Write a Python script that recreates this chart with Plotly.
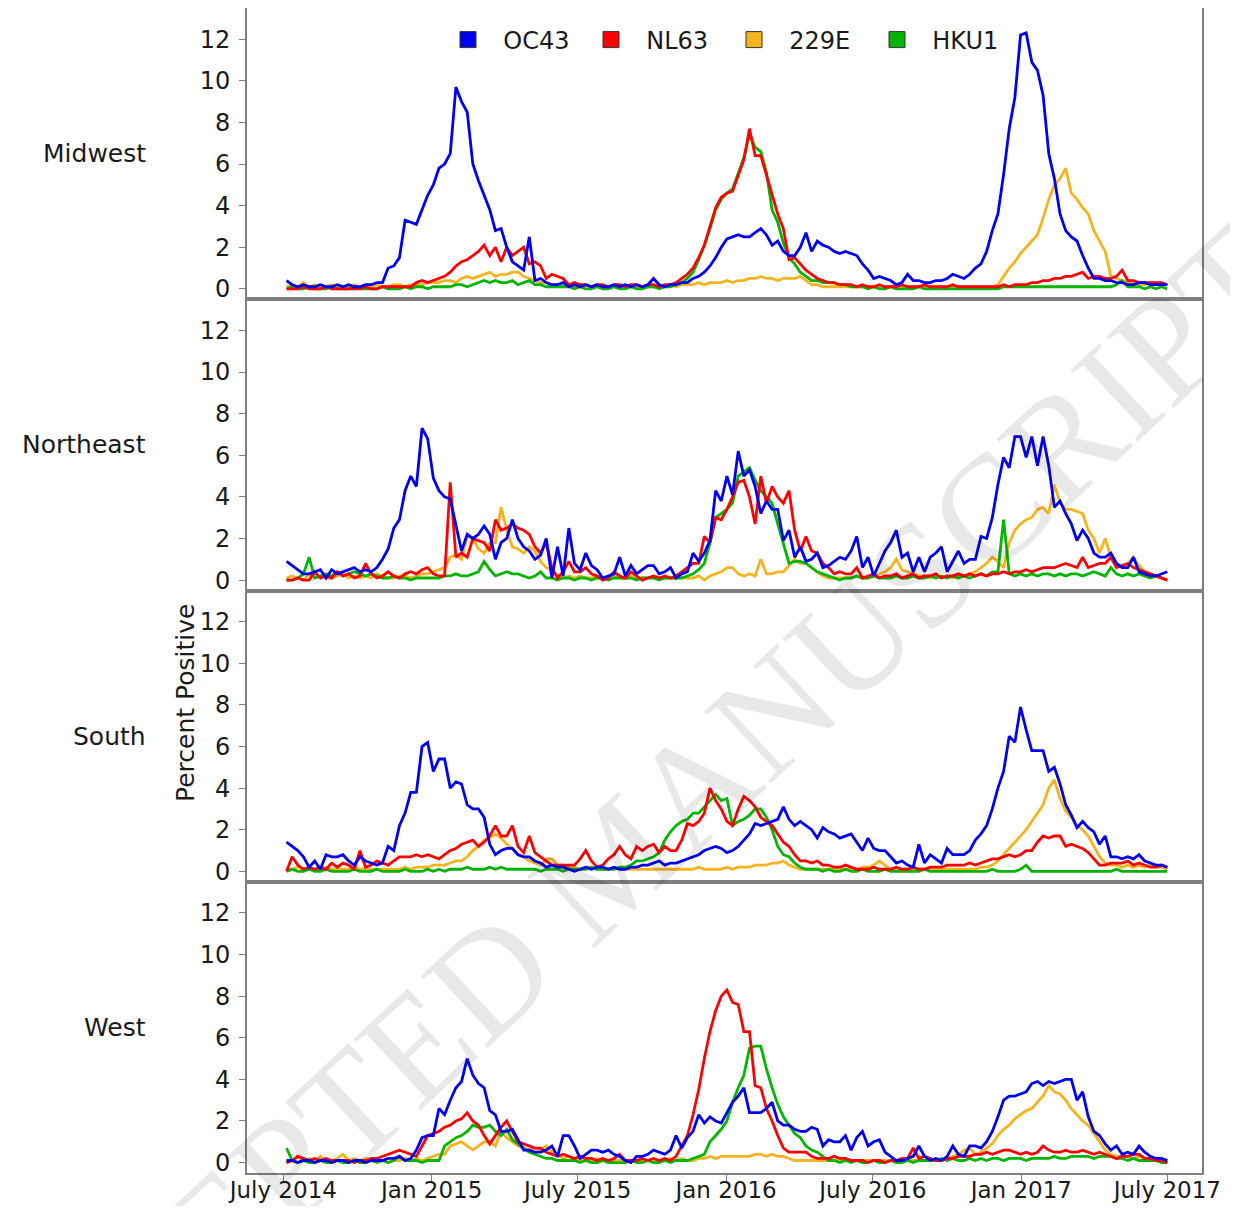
import pandas as pd
import plotly.graph_objects as go

# ---------------- data (weekly percent positive, week ending Saturday) ----------------
week_start = "2014-07-05"
n_weeks = 157
regions = ["Midwest", "Northeast", "South", "West"]
virus_names = ["OC43", "NL63", "229E", "HKU1"]
virus_colors = {"OC43": "#0000F0", "NL63": "#FF0000", "229E": "#F5B41E", "HKU1": "#00B400"}

midwest_oc43 = [0.4,0.2,0.1,0.2,0.1,0.1,0.2,0.1,0.1,0.2, 0.1,0.2,0.1,0.1,0.2,0.2,0.3,0.3,1.0,1.1,
                1.5,3.3,3.2,3.1,3.8,4.5,5.0,5.8,6.0,6.5, 9.7,9.0,8.5,6.0,5.2,4.5,3.8,2.8,2.9,2.0,
                1.3,1.1,0.9,2.5,0.4,0.5,0.3,0.2,0.2,0.3, 0.1,0.2,0.1,0.2,0.1,0.2,0.1,0.1,0.2,0.1,
                0.2,0.1,0.2,0.1,0.2,0.5,0.2,0.1,0.2,0.2, 0.3,0.3,0.5,0.6,0.8,1.1,1.5,2.0,2.4,2.5,
                2.6,2.5,2.5,2.7,2.9,2.6,2.1,2.3,1.8,1.6, 1.6,2.0,2.7,1.8,2.3,2.1,2.0,1.8,1.7,1.8,
                1.7,1.6,1.2,0.9,0.5,0.6,0.5,0.4,0.2,0.3, 0.7,0.4,0.4,0.3,0.3,0.4,0.4,0.5,0.7,0.6,
                0.5,0.7,1.0,1.2,1.8,2.8,3.6,5.5,7.7,9.2, 12.2,12.3,10.9,10.5,9.3,6.5,5.3,3.6,2.8,2.5,
                2.3,1.6,1.0,0.5,0.5,0.4,0.4,0.3,0.3,0.2, 0.2,0.3,0.3,0.2,0.2,0.2,0.2]
midwest_nl63 = [0.0,0.0,0.0,0.1,0.0,0.0,0.0,0.1,0.0,0.0, 0.0,0.0,0.0,0.0,0.1,0.0,0.0,0.1,0.1,0.1,
                0.1,0.1,0.1,0.3,0.4,0.3,0.4,0.5,0.6,0.8, 1.1,1.3,1.4,1.6,1.8,2.1,1.6,2.0,1.3,2.0,
                1.6,1.8,2.0,1.2,1.3,1.1,0.5,0.7,0.6,0.5, 0.2,0.3,0.2,0.2,0.1,0.2,0.2,0.1,0.2,0.2,
                0.1,0.2,0.2,0.1,0.2,0.2,0.1,0.2,0.2,0.3, 0.5,0.7,1.0,1.5,2.1,3.0,3.9,4.4,4.6,4.7,
                5.5,6.2,7.7,6.4,6.4,5.5,4.5,3.6,2.9,1.4, 1.5,1.2,0.9,0.7,0.5,0.4,0.3,0.3,0.2,0.2,
                0.2,0.1,0.2,0.1,0.1,0.2,0.1,0.1,0.1,0.2, 0.1,0.1,0.1,0.2,0.1,0.1,0.1,0.1,0.2,0.1,
                0.1,0.1,0.1,0.1,0.1,0.1,0.1,0.2,0.1,0.2, 0.2,0.2,0.3,0.3,0.4,0.4,0.5,0.5,0.6,0.6,
                0.7,0.8,0.5,0.6,0.6,0.5,0.5,0.6,0.9,0.4, 0.4,0.3,0.3,0.3,0.3,0.3,0.2]
midwest_229e = [0.1,0.2,0.1,0.3,0.1,0.2,0.1,0.1,0.2,0.1, 0.1,0.1,0.2,0.1,0.1,0.1,0.2,0.1,0.1,0.2,
                0.2,0.1,0.2,0.2,0.2,0.3,0.3,0.3,0.4,0.4, 0.3,0.5,0.6,0.5,0.6,0.7,0.8,0.6,0.7,0.7,
                0.8,0.8,0.6,0.5,0.4,0.3,0.3,0.2,0.2,0.1, 0.2,0.1,0.1,0.2,0.1,0.1,0.1,0.1,0.1,0.1,
                0.1,0.1,0.1,0.1,0.1,0.1,0.1,0.1,0.2,0.1, 0.2,0.2,0.2,0.3,0.2,0.3,0.3,0.3,0.4,0.3,
                0.4,0.4,0.5,0.5,0.6,0.5,0.5,0.4,0.5,0.5, 0.5,0.6,0.4,0.2,0.2,0.1,0.1,0.1,0.1,0.1,
                0.1,0.1,0.1,0.1,0.1,0.1,0.1,0.1,0.2,0.1, 0.1,0.1,0.1,0.1,0.1,0.1,0.1,0.1,0.1,0.1,
                0.1,0.1,0.1,0.1,0.1,0.1,0.2,0.6,1.0,1.3, 1.7,2.0,2.3,2.6,3.4,4.3,5.0,5.3,5.8,4.6,
                4.3,3.9,3.6,2.8,2.3,1.8,0.6,0.5,0.4,0.3, 0.3,0.2,0.2,0.3,0.2,0.2,0.2]
midwest_hku1 = [0.0,0.1,0.0,0.0,0.1,0.0,0.0,0.0,0.1,0.0, 0.0,0.0,0.1,0.0,0.0,0.0,0.0,0.1,0.0,0.0,
                0.0,0.1,0.0,0.1,0.1,0.0,0.1,0.1,0.1,0.1, 0.2,0.2,0.1,0.2,0.3,0.4,0.3,0.4,0.3,0.3,
                0.4,0.2,0.3,0.4,0.2,0.2,0.1,0.1,0.1,0.1, 0.1,0.0,0.1,0.0,0.0,0.1,0.0,0.0,0.1,0.0,
                0.0,0.1,0.0,0.0,0.1,0.1,0.0,0.1,0.1,0.2, 0.3,0.5,0.8,1.4,2.1,2.9,3.8,4.3,4.6,4.8,
                5.5,6.3,7.4,6.8,6.6,5.6,3.8,3.2,2.2,1.5, 1.2,0.8,0.6,0.4,0.4,0.3,0.3,0.3,0.2,0.2,
                0.1,0.1,0.1,0.0,0.1,0.0,0.0,0.1,0.0,0.0, 0.0,0.0,0.1,0.0,0.0,0.0,0.0,0.0,0.0,0.0,
                0.0,0.0,0.0,0.0,0.0,0.0,0.0,0.1,0.1,0.1, 0.1,0.1,0.1,0.1,0.1,0.1,0.1,0.1,0.1,0.1,
                0.1,0.1,0.1,0.1,0.1,0.1,0.1,0.2,0.4,0.1, 0.1,0.1,0.0,0.1,0.0,0.1,0.0]

northeast_oc43 = [0.9,0.7,0.5,0.3,0.3,0.4,0.5,0.1,0.5,0.3, 0.4,0.5,0.6,0.4,0.5,0.4,0.6,1.0,1.5,2.5,
                  2.9,4.3,5.0,4.5,7.3,6.8,4.9,4.3,4.0,3.9, 2.7,1.4,2.2,2.0,2.2,2.6,2.2,1.0,1.8,2.0,
                  2.9,2.0,1.6,1.4,1.0,1.2,2.0,0.1,1.6,0.2, 2.5,0.8,0.5,1.3,0.7,0.5,0.1,0.2,0.3,1.1,
                  0.2,0.7,0.3,0.5,0.7,0.7,0.3,0.4,0.6,0.1, 0.3,0.4,1.3,0.9,1.3,1.9,4.3,3.8,5.0,4.1,
                  6.2,5.0,5.3,4.5,3.2,3.8,3.4,3.4,1.9,2.4, 1.1,1.6,0.9,1.0,1.3,0.6,0.7,0.9,1.1,1.0,
                  1.4,2.1,0.6,1.1,0.2,0.8,1.4,1.8,2.4,1.1, 1.3,0.4,1.1,0.4,1.1,1.3,1.6,0.4,0.9,1.4,
                  0.8,1.0,1.0,2.1,2.0,3.0,4.6,5.9,5.4,6.9, 6.9,5.9,6.9,5.5,6.9,5.5,3.5,3.8,3.2,2.7,
                  1.9,2.4,2.0,1.3,1.1,1.1,1.3,0.8,0.6,0.6, 1.1,0.4,0.3,0.2,0.2,0.3,0.4]
northeast_nl63 = [0.0,0.0,0.1,0.0,0.0,0.4,0.1,0.2,0.1,0.4, 0.2,0.3,0.1,0.2,0.8,0.3,0.1,0.2,0.4,0.2,
                  0.1,0.3,0.4,0.3,0.5,0.6,0.3,0.2,0.2,4.7, 1.1,1.3,1.1,2.0,1.9,1.8,1.4,2.9,2.4,2.5,
                  2.7,2.5,2.4,2.2,1.6,1.3,1.8,0.6,0.1,0.4, 0.9,0.4,0.4,0.6,0.3,0.2,0.0,0.1,0.4,0.2,
                  0.1,0.4,0.2,0.0,0.1,0.2,0.1,0.2,0.1,0.2, 0.4,0.6,0.8,0.8,2.1,1.8,3.0,2.9,3.4,4.0,
                  4.7,4.8,4.0,2.7,5.0,3.7,4.5,4.0,3.7,4.3, 2.4,1.4,2.1,1.4,1.3,0.8,0.6,0.3,0.4,0.3,
                  0.3,0.6,0.1,0.2,0.3,0.1,0.2,0.2,0.3,0.1, 0.2,0.3,0.1,0.2,0.2,0.3,0.1,0.2,0.2,0.3,
                  0.2,0.3,0.2,0.3,0.2,0.3,0.3,0.4,0.3,0.4, 0.4,0.5,0.4,0.5,0.6,0.6,0.6,0.7,0.8,0.7,
                  0.6,1.1,0.6,0.7,0.8,0.8,1.1,0.6,0.7,0.8, 0.6,0.5,0.4,0.3,0.2,0.1,0.0]
northeast_229e = [0.1,0.2,0.1,0.0,0.3,0.1,0.2,0.1,0.1,0.2, 0.3,0.1,0.2,0.1,0.2,0.1,0.3,0.2,0.1,0.1,
                  0.2,0.2,0.1,0.2,0.3,0.3,0.4,0.5,0.6,1.1, 1.2,1.0,2.1,2.0,1.5,1.3,1.8,1.8,3.5,2.4,
                  1.6,1.5,1.3,1.6,1.4,0.9,0.6,0.5,0.2,0.1, 0.2,0.1,0.2,0.1,0.1,0.2,0.1,0.1,0.2,0.1,
                  0.1,0.2,0.1,0.1,0.1,0.2,0.1,0.1,0.1,0.1, 0.1,0.1,0.1,0.2,0.0,0.2,0.3,0.4,0.6,0.6,
                  0.3,0.2,0.3,0.2,1.0,0.3,0.3,0.4,0.4,0.7, 1.0,0.8,0.8,0.6,0.4,0.2,0.1,0.1,0.1,0.1,
                  0.1,0.2,0.1,0.1,0.2,0.3,0.4,0.6,1.0,0.5, 0.4,0.3,0.2,0.2,0.1,0.2,0.1,0.2,0.1,0.2,
                  0.2,0.3,0.4,0.6,0.8,1.1,0.9,0.6,1.8,2.4, 2.7,2.9,3.0,3.4,3.5,3.2,4.6,3.7,3.4,3.4,
                  3.3,3.2,2.4,2.0,1.3,2.0,1.1,0.8,0.6,0.8, 1.1,0.7,0.4,0.3,0.2,0.1,0.0]
northeast_hku1 = [0.0,0.0,0.1,0.3,1.1,0.1,0.2,0.3,0.2,0.4, 0.2,0.3,0.4,0.3,0.2,0.3,0.2,0.1,0.1,0.2,
                  0.1,0.1,0.0,0.1,0.1,0.1,0.1,0.1,0.2,0.2, 0.3,0.2,0.2,0.3,0.4,0.9,0.5,0.2,0.3,0.4,
                  0.3,0.3,0.2,0.1,0.2,0.4,0.1,0.1,0.0,0.1, 0.1,0.0,0.1,0.1,0.0,0.1,0.1,0.0,0.1,0.1,
                  0.1,0.1,0.0,0.1,0.1,0.1,0.0,0.1,0.1,0.1, 0.1,0.2,0.3,0.5,0.8,1.8,3.0,3.2,3.4,3.7,
                  5.0,5.2,5.4,4.8,4.3,4.0,3.7,2.7,1.8,0.8, 0.9,0.9,0.8,0.6,0.4,0.3,0.2,0.1,0.0,0.1,
                  0.1,0.2,0.1,0.1,0.2,0.1,0.1,0.1,0.2,0.1, 0.1,0.2,0.1,0.1,0.2,0.1,0.2,0.1,0.2,0.1,
                  0.2,0.1,0.2,0.3,0.2,0.4,0.4,2.9,0.3,0.2, 0.3,0.2,0.3,0.2,0.3,0.3,0.2,0.3,0.2,0.3,
                  0.3,0.2,0.3,0.4,0.3,0.2,0.6,0.3,0.2,0.3, 0.2,0.3,0.2,0.1,0.2,0.1,0.0]

south_oc43 = [1.4,1.2,1.0,0.7,0.2,0.5,0.1,0.8,0.7,0.7, 0.8,0.5,0.3,0.7,0.5,0.4,0.3,0.4,1.2,1.0,
              2.2,2.8,3.8,3.8,6.0,6.2,4.8,5.4,5.4,4.0, 4.3,4.2,3.2,3.0,3.0,2.6,1.3,0.8,1.0,1.1,
              1.1,0.8,0.7,0.7,0.5,0.4,0.2,0.3,0.2,0.2, 0.1,0.0,0.1,0.2,0.1,0.2,0.2,0.1,0.2,0.1,
              0.1,0.2,0.2,0.3,0.3,0.4,0.5,0.3,0.4,0.4, 0.5,0.6,0.7,0.8,1.0,1.1,1.2,1.1,0.9,1.0,
              1.2,1.5,1.8,2.3,2.2,2.3,2.4,2.5,3.1,2.5, 2.2,2.4,2.2,2.0,1.6,2.1,1.9,1.8,1.6,1.7,
              1.8,1.4,1.0,1.6,1.1,1.0,1.0,0.7,0.4,0.5, 0.3,0.2,1.3,0.4,0.8,0.6,0.4,1.1,0.8,0.8,
              0.8,1.0,1.5,1.8,2.2,3.0,4.0,4.8,6.5,6.2, 7.9,6.8,5.8,5.8,5.8,4.8,5.0,4.2,3.2,2.7,
              2.1,2.4,2.1,1.9,1.3,1.7,0.7,0.7,0.6,0.7, 0.6,0.8,0.5,0.4,0.3,0.3,0.2]
south_nl63 = [0.0,0.7,0.3,0.1,0.2,0.1,0.2,0.1,0.4,0.2, 0.4,0.3,0.1,1.0,0.2,0.3,0.5,0.4,0.3,0.5,
              0.7,0.7,0.7,0.8,0.7,0.8,0.7,0.6,0.8,1.0, 1.1,1.3,1.4,1.5,1.2,1.4,1.7,2.2,1.7,1.7,
              2.2,1.2,0.9,1.7,0.9,0.7,0.5,0.3,0.3,0.3, 0.3,0.3,0.6,1.0,0.5,0.2,0.3,0.6,0.8,1.2,
              0.8,0.6,1.2,1.0,1.2,1.3,0.9,1.2,1.0,1.0, 1.5,2.3,2.2,2.4,2.8,4.0,3.4,3.0,2.4,2.2,
              3.0,3.6,3.4,3.1,2.6,2.4,2.2,1.8,1.4,1.2, 0.8,0.5,0.5,0.4,0.5,0.3,0.3,0.2,0.2,0.3,
              0.2,0.1,0.1,0.1,0.2,0.1,0.1,0.1,0.2,0.1, 0.1,0.2,0.1,0.1,0.2,0.2,0.2,0.3,0.3,0.3,
              0.3,0.4,0.3,0.4,0.5,0.6,0.6,0.7,0.8,0.7, 0.8,1.0,1.0,1.4,1.7,1.6,1.7,1.7,1.2,1.3,
              1.2,1.1,0.9,0.6,0.3,0.3,0.4,0.4,0.4,0.5, 0.3,0.4,0.3,0.2,0.2,0.3,0.2]
south_229e = [0.1,0.1,0.2,0.1,0.1,0.1,0.1,0.2,0.1,0.1, 0.1,0.1,0.2,0.1,0.1,0.1,0.1,0.1,0.1,0.1,
              0.1,0.2,0.1,0.2,0.2,0.2,0.3,0.3,0.3,0.4, 0.5,0.5,0.7,1.0,1.2,1.5,1.6,1.8,1.6,1.3,
              1.1,0.8,0.7,0.5,0.4,0.3,0.6,0.6,0.3,0.2, 0.2,0.2,0.1,0.2,0.2,0.1,0.1,0.1,0.2,0.1,
              0.1,0.1,0.1,0.1,0.1,0.1,0.1,0.1,0.1,0.1, 0.1,0.1,0.1,0.2,0.1,0.1,0.1,0.1,0.2,0.1,
              0.2,0.2,0.2,0.3,0.3,0.3,0.4,0.4,0.5,0.3, 0.2,0.1,0.1,0.1,0.1,0.1,0.1,0.1,0.1,0.1,
              0.1,0.1,0.2,0.2,0.3,0.5,0.3,0.1,0.1,0.1, 0.1,0.1,0.1,0.1,0.1,0.1,0.1,0.1,0.1,0.1,
              0.1,0.1,0.1,0.2,0.2,0.3,0.5,0.8,1.1,1.4, 1.7,2.0,2.4,2.8,3.2,4.0,4.4,3.5,2.9,2.6,
              2.2,2.0,1.7,1.2,0.7,0.4,0.3,0.3,0.2,0.3, 0.2,0.3,0.2,0.3,0.2,0.2,0.1]
south_hku1 = [0.0,0.1,0.0,0.0,0.1,0.0,0.0,0.1,0.0,0.0, 0.0,0.0,0.1,0.0,0.0,0.0,0.1,0.0,0.0,0.0,
              0.0,0.1,0.0,0.0,0.0,0.1,0.0,0.1,0.0,0.1, 0.1,0.1,0.2,0.1,0.1,0.1,0.2,0.1,0.2,0.1,
              0.1,0.1,0.1,0.1,0.1,0.0,0.1,0.1,0.1,0.0, 0.1,0.1,0.1,0.1,0.2,0.1,0.1,0.1,0.1,0.2,
              0.2,0.3,0.5,0.5,0.6,0.7,0.9,1.5,1.9,2.2, 2.4,2.5,2.8,2.8,3.1,3.4,3.7,3.4,3.5,2.2,
              2.4,2.5,2.7,3.0,3.0,2.6,2.0,1.2,0.8,0.7, 0.4,0.2,0.1,0.1,0.1,0.0,0.1,0.0,0.0,0.1,
              0.0,0.0,0.1,0.0,0.0,0.0,0.1,0.0,0.0,0.0, 0.0,0.0,0.0,0.1,0.0,0.0,0.0,0.0,0.0,0.0,
              0.0,0.0,0.0,0.0,0.0,0.1,0.0,0.0,0.0,0.0, 0.1,0.3,0.0,0.0,0.0,0.0,0.0,0.0,0.0,0.0,
              0.0,0.0,0.0,0.0,0.0,0.0,0.0,0.1,0.0,0.0, 0.0,0.0,0.0,0.0,0.0,0.0,0.0]

west_oc43 = [0.1,0.1,0.0,0.1,0.1,0.0,0.1,0.1,0.0,0.1, 0.1,0.0,0.1,0.1,0.0,0.1,0.1,0.1,0.2,0.2,
             0.3,0.1,0.2,0.6,1.2,1.3,1.3,2.6,2.3,3.0, 3.6,3.9,5.0,4.2,3.8,3.6,2.5,2.3,1.5,1.5,
             1.6,1.1,0.6,0.6,0.5,0.5,0.6,0.8,0.3,1.3, 1.3,0.8,0.2,0.4,0.6,0.6,0.5,0.6,0.4,0.3,
             0.1,0.0,0.3,0.3,0.4,0.6,0.5,0.4,0.6,1.3, 0.7,1.2,1.5,2.3,1.9,2.2,2.0,1.9,2.4,2.9,
             3.2,3.6,2.4,2.4,2.4,2.6,2.9,2.0,1.8,1.8, 1.6,1.5,1.5,1.7,1.6,0.8,1.1,1.0,1.0,1.3,
             0.6,1.2,1.5,0.8,1.0,1.1,0.5,0.3,0.1,0.1, 0.2,0.3,0.8,0.3,0.1,0.2,0.1,0.3,0.8,0.4,
             0.3,0.8,0.8,0.7,1.0,1.5,2.2,3.0,3.2,3.2, 3.3,3.4,3.8,3.9,3.7,3.9,3.8,3.9,4.0,4.0,
             3.0,3.4,2.2,1.5,1.3,0.9,0.6,0.8,0.4,0.5, 0.4,0.8,0.5,0.3,0.2,0.2,0.1]
west_nl63 = [0.0,0.1,0.3,0.2,0.1,0.2,0.1,0.2,0.1,0.1, 0.1,0.1,0.0,0.1,0.1,0.2,0.2,0.3,0.4,0.5,
             0.6,0.5,0.4,0.3,0.8,1.3,1.4,1.5,1.7,1.8, 2.0,2.1,2.4,2.0,1.8,1.3,0.9,1.3,1.7,2.0,
             1.5,1.0,0.9,0.8,0.7,0.7,0.5,0.4,0.3,0.4, 0.3,0.2,0.3,0.2,0.2,0.1,0.2,0.1,0.2,0.4,
             0.1,0.1,0.1,0.2,0.1,0.2,0.1,0.2,0.1,0.3, 0.8,1.3,2.3,3.5,5.0,6.3,7.3,8.0,8.3,7.7,
             7.6,6.3,6.3,3.7,3.6,2.6,2.0,1.3,0.7,0.5, 0.5,0.5,0.5,0.3,0.2,0.2,0.2,0.3,0.2,0.2,
             0.1,0.1,0.1,0.0,0.1,0.1,0.0,0.1,0.1,0.2, 0.2,0.7,0.2,0.3,0.2,0.1,0.1,0.2,0.2,0.3,
             0.3,0.3,0.4,0.4,0.5,0.4,0.5,0.6,0.6,0.5, 0.4,0.5,0.4,0.5,0.8,0.6,0.5,0.5,0.6,0.5,
             0.5,0.6,0.5,0.4,0.5,0.4,0.3,0.2,0.3,0.3, 0.4,0.4,0.2,0.2,0.1,0.1,0.0]
west_229e = [0.0,0.1,0.3,0.1,0.2,0.1,0.3,0.1,0.1,0.2, 0.4,0.1,0.2,0.1,0.2,0.1,0.1,0.1,0.0,0.1,
             0.1,0.2,0.1,0.2,0.1,0.2,0.3,0.4,0.4,0.8, 0.9,1.0,0.8,0.6,0.8,1.0,1.0,0.8,1.5,1.2,
             1.0,0.8,0.7,0.6,0.7,0.6,0.8,0.5,0.4,0.2, 0.3,0.2,0.1,0.2,0.1,0.2,0.1,0.1,0.1,0.1,
             0.1,0.1,0.1,0.1,0.1,0.1,0.1,0.1,0.2,0.1, 0.2,0.1,0.1,0.2,0.2,0.3,0.2,0.3,0.3,0.3,
             0.3,0.3,0.3,0.4,0.4,0.3,0.4,0.3,0.3,0.2, 0.1,0.1,0.1,0.1,0.1,0.1,0.1,0.1,0.1,0.1,
             0.1,0.1,0.1,0.1,0.1,0.1,0.1,0.1,0.1,0.1, 0.1,0.1,0.1,0.1,0.1,0.1,0.1,0.2,0.3,0.4,
             0.6,0.7,0.4,0.5,0.7,0.9,1.3,1.6,1.8,2.1, 2.3,2.5,2.6,2.9,3.2,3.7,3.4,3.3,3.0,2.6,
             2.3,2.0,1.8,1.4,1.0,0.6,0.4,0.3,0.3,0.3, 0.2,0.3,0.2,0.2,0.1,0.1,0.1]
west_hku1 = [0.7,0.1,0.0,0.1,0.0,0.0,0.1,0.0,0.0,0.1, 0.0,0.0,0.1,0.0,0.0,0.1,0.0,0.1,0.0,0.1,
             0.3,0.1,0.1,0.1,0.0,0.1,0.1,0.1,0.8,1.0, 1.2,1.3,1.5,1.8,1.7,1.7,1.8,1.5,1.3,1.6,
             1.1,0.9,0.7,0.5,0.4,0.3,0.2,0.2,0.1,0.1, 0.1,0.1,0.0,0.1,0.0,0.0,0.1,0.0,0.0,0.0,
             0.0,0.1,0.0,0.0,0.1,0.0,0.0,0.1,0.0,0.1, 0.1,0.1,0.2,0.3,0.4,1.0,1.3,1.6,2.0,2.9,
             3.6,4.2,5.5,5.6,5.6,4.5,3.6,2.8,2.2,1.8, 1.4,1.2,0.8,0.6,0.5,0.3,0.1,0.1,0.0,0.1,
             0.0,0.1,0.0,0.0,0.1,0.0,0.0,0.1,0.0,0.0, 0.1,0.0,0.1,0.1,0.1,0.1,0.2,0.1,0.2,0.1,
             0.1,0.2,0.1,0.2,0.1,0.2,0.2,0.1,0.2,0.2, 0.2,0.1,0.2,0.2,0.2,0.2,0.3,0.2,0.2,0.3,
             0.3,0.3,0.3,0.2,0.3,0.3,0.3,0.2,0.2,0.1, 0.2,0.1,0.1,0.1,0.1,0.0,0.0]

x_tick_dates = ["2014-07-01", "2015-01-01", "2015-07-01", "2016-01-01", "2016-07-01", "2017-01-01", "2017-07-01"]
x_tick_labels = ["July 2014", "Jan 2015", "July 2015", "Jan 2016", "July 2016", "Jan 2017", "July 2017"]
y_tick_values = [0, 2, 4, 6, 8, 10, 12]

series = {
    "Midwest": {"OC43": midwest_oc43, "NL63": midwest_nl63, "229E": midwest_229e, "HKU1": midwest_hku1},
    "Northeast": {"OC43": northeast_oc43, "NL63": northeast_nl63, "229E": northeast_229e, "HKU1": northeast_hku1},
    "South": {"OC43": south_oc43, "NL63": south_nl63, "229E": south_229e, "HKU1": south_hku1},
    "West": {"OC43": west_oc43, "NL63": west_nl63, "229E": west_229e, "HKU1": west_hku1},
}
for reg in series:
    for v in series[reg]:
        assert len(series[reg][v]) == n_weeks, (reg, v, len(series[reg][v]))

dates = pd.date_range(week_start, periods=n_weeks, freq="7D")

# ---------------- figure ----------------
# the page body has an 8px margin; size the figure so the page does not overflow
FONT = "DejaVu Sans"
TXT = "#1a1a1a"
AX = "#7f7f7f"
OFF = 8                      # body margin (page px)
W, H = 1238 - 2 * OFF, 1214 - 2 * OFF
PL, PR, PT, PB = 247, 1202, 7, 1173   # plot area in page pixels (reference)
ML = PL - OFF
MR = W - (PR - OFF)
MT = max(PT - OFF, 0)
MB = H - (PB - OFF)
PW = W - ML - MR
PH = H - MT - MB


def px_x(page_x):
    return (page_x - OFF - ML) / PW


def px_y(page_y):
    return (H - MB - (page_y - OFF)) / PH


fig = go.Figure()
draw_order = ["229E", "HKU1", "NL63", "OC43"]
for r, reg in enumerate(regions):
    ax = "" if r == 0 else str(r + 1)
    for v in draw_order:
        fig.add_trace(go.Scatter(
            x=dates, y=series[reg][v], mode="lines", name=v, showlegend=False,
            line=dict(color=virus_colors[v], width=2.8),
            xaxis="x" + ax, yaxis="y" + ax, hoverinfo="skip"))

# legend entries (square keys)
for v in virus_names:
    fig.add_trace(go.Scatter(
        x=[None], y=[None], mode="markers", name="  " + v,
        marker=dict(symbol="square", size=18, color=virus_colors[v],
                    line=dict(color="#333333", width=1)),
        xaxis="x", yaxis="y", showlegend=True))

layout = dict(
    width=W, height=H, autosize=False,
    margin=dict(l=ML, r=MR, t=MT, b=MB, autoexpand=False),
    paper_bgcolor="white", plot_bgcolor="white",
    font=dict(family=FONT, size=24, color=TXT),
    showlegend=True,
    legend=dict(orientation="h", x=px_x(448), xanchor="left",
                y=px_y(40), yanchor="middle",
                entrywidth=98, entrywidthmode="pixels",
                font=dict(family=FONT, size=24, color=TXT),
                bgcolor="rgba(0,0,0,0)", borderwidth=0, itemsizing="trace"),
)

n = len(regions)
for r in range(n):
    ax = "" if r == 0 else str(r + 1)
    top = 1 - r / n
    bot = 1 - (r + 1) / n
    layout["yaxis" + ax] = dict(
        domain=[bot, top], range=[-0.5, 13.5], tickvals=y_tick_values,
        ticks="outside", ticklen=6, tickcolor=AX, tickwidth=1.2,
        showline=True, linecolor=AX, linewidth=1.6, mirror=True,
        showgrid=False, zeroline=False, anchor="x" + ax, automargin=False,
        tickfont=dict(family=FONT, size=24, color=TXT), ticklabelstandoff=4)
    is_bottom = (r == n - 1)
    xa = dict(
        type="date", range=["2014-05-17", "2017-08-13"],
        tickvals=x_tick_dates, ticktext=x_tick_labels,
        showticklabels=is_bottom, ticks="outside" if is_bottom else "",
        ticklen=6, tickcolor=AX, tickwidth=1.2,
        showline=True, linecolor=AX, linewidth=1.6, mirror=True,
        showgrid=False, zeroline=False, anchor="y" + ax, automargin=False,
        tickfont=dict(family=FONT, size=23, color=TXT), ticklabelstandoff=-10)
    if r > 0:
        xa["matches"] = "x"
    layout["xaxis" + ax] = xa

annotations = []
for r, reg in enumerate(regions):
    ax = "" if r == 0 else str(r + 1)
    annotations.append(dict(
        text=reg, xref="paper", x=px_x(148), xanchor="right",
        yref="y" + ax + " domain", y=0.5, yanchor="middle", showarrow=False,
        font=dict(family=FONT, size=25, color=TXT)))

annotations.append(dict(
    text="Percent Positive", textangle=-90, xref="paper", x=px_x(185),
    xanchor="center", yref="paper", y=px_y(703), yanchor="middle",
    showarrow=False, font=dict(family=FONT, size=25, color=TXT)))

# faint diagonal watermark
annotations.append(dict(
    text="ACCEPTED MANUSCRIPT", textangle=-43, xref="paper", x=px_x(612),
    yref="paper", y=px_y(862), xanchor="center", yanchor="middle",
    showarrow=False, font=dict(family="Liberation Serif", size=150, color="rgba(0,0,0,0.09)")))

layout["annotations"] = annotations
fig.update_layout(**layout)

fig.write_html("out.html")
